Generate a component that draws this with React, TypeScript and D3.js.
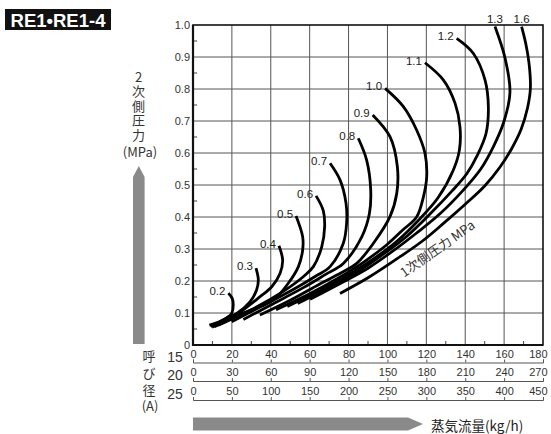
import { useEffect, useRef } from "react";
import * as d3 from "d3";

// secondary pressure ticks (MPa)
const pressureTicks = [0, 0.1, 0.2, 0.3, 0.4, 0.5, 0.6, 0.7, 0.8, 0.9, 1.0];
// steam flow ticks per nominal size (kg/h)
const flowTicks15 = [0, 20, 40, 60, 80, 100, 120, 140, 160, 180];
const flowTicks20 = [0, 30, 60, 90, 120, 150, 180, 210, 240, 270];
const flowTicks25 = [0, 50, 100, 150, 200, 250, 300, 350, 400, 450];
const nominalSizes = ["15", "20", "25"];

// primary pressure labels
const curveLabels = ["0.2", "0.3", "0.4", "0.5", "0.6", "0.7", "0.8", "0.9", "1.0", "1.1", "1.2", "1.3", "1.6"];

// [flow (15A scale), secondary pressure]
const curve02: [number, number][] = [[8.4, 0.062], [13.9, 0.073], [18, 0.088], [19.9, 0.099], [20.7, 0.125], [20.2, 0.145], [18.2, 0.162]];
const curve03: [number, number][] = [[9.0, 0.058], [16, 0.08], [22.5, 0.099], [29.3, 0.135], [32.7, 0.172], [33.6, 0.203], [32.4, 0.24]];
const curve04: [number, number][] = [[9.8, 0.056], [20, 0.085], [34.5, 0.151], [40.5, 0.182], [44.8, 0.224], [46.1, 0.266], [44.2, 0.31]];
const curve05: [number, number][] = [[11, 0.057], [25, 0.098], [41.3, 0.141], [49, 0.193], [54.2, 0.245], [56.4, 0.297], [56.4, 0.338], [53, 0.403]];
const curve06: [number, number][] = [[13, 0.062], [30, 0.11], [47, 0.17], [57, 0.215], [61.9, 0.245], [66.2, 0.307], [67.7, 0.37], [67, 0.42], [63.3, 0.466]];
const curve07: [number, number][] = [[19.9, 0.073], [35, 0.12], [52, 0.175], [63, 0.215], [70.5, 0.245], [77.3, 0.318], [79, 0.38], [78.7, 0.443], [75.6, 0.516], [70.5, 0.568]];
const curve08: [number, number][] = [[25.9, 0.08], [40, 0.125], [57, 0.18], [68, 0.22], [77.3, 0.255], [86.8, 0.338], [90.7, 0.41], [91.4, 0.484], [89.3, 0.578], [85, 0.646]];
const curve09: [number, number][] = [[34.4, 0.094], [50, 0.14], [65, 0.19], [76, 0.225], [84.2, 0.255], [92.8, 0.318], [101.3, 0.401], [104.8, 0.474], [105.1, 0.557], [101.3, 0.651], [92.4, 0.719]];
const curve10: [number, number][] = [[42.7, 0.11], [60, 0.16], [75, 0.21], [88, 0.26], [100, 0.315], [108, 0.36], [115, 0.4], [118.5, 0.463], [120.2, 0.526], [119.3, 0.599], [115, 0.672], [108.2, 0.745], [98.8, 0.802]];
const curve11: [number, number][] = [[48.5, 0.12], [65, 0.17], [80, 0.22], [93, 0.27], [105, 0.325], [116, 0.39], [126, 0.46], [133.9, 0.547], [137, 0.609], [137.3, 0.682], [134.8, 0.755], [128.8, 0.828], [119.3, 0.882]];
const curve12: [number, number][] = [[53.8, 0.13], [70, 0.18], [85, 0.23], [97, 0.28], [110, 0.34], [122, 0.41], [133, 0.48], [140.8, 0.535], [146, 0.59], [150.7, 0.661], [151.9, 0.745], [150.2, 0.828], [144.2, 0.911], [135.6, 0.958]];
const curve13: [number, number][] = [[60.2, 0.143], [75, 0.19], [90, 0.24], [102, 0.29], [115, 0.35], [127, 0.41], [139, 0.484], [148, 0.55], [154.5, 0.62], [160, 0.7], [163, 0.79], [160.5, 0.896], [155.3, 0.995]];
const curve16: [number, number][] = [[75.6, 0.161], [90, 0.21], [106.5, 0.276], [118, 0.325], [128.8, 0.38], [140, 0.44], [150, 0.497], [158, 0.557], [164, 0.615], [168.8, 0.675], [172, 0.74], [173.5, 0.8], [173, 0.87], [171.2, 0.94], [169, 0.995]];

const curves = [curve02, curve03, curve04, curve05, curve06, curve07, curve08, curve09, curve10, curve11, curve12, curve13, curve16];

const W = 551;
const H = 434;
const SANS = "'Liberation Sans', Arial, Helvetica, sans-serif";
const CJK = "'Noto Sans CJK JP', 'Liberation Sans', sans-serif";

export default function App() {
  const svgRef = useRef<SVGSVGElement>(null);

  useEffect(() => {
    if (!svgRef.current) return;
    const svg = d3.select(svgRef.current);
    svg.selectAll("*").remove();

    const x = d3.scaleLinear().domain([0, 180]).range([193, 543]);
    const y = d3.scaleLinear().domain([0, 1]).range([345, 25]);

    svg.append("rect").attr("width", W).attr("height", H).attr("fill", "#fff");

    // title badge
    svg.append("rect").attr("x", 5).attr("y", 9).attr("width", 106).attr("height", 21).attr("fill", "#111");
    svg
      .append("text")
      .attr("x", 58)
      .attr("y", 20)
      .attr("text-anchor", "middle")
      .attr("dominant-baseline", "central")
      .attr("font-family", SANS)
      .attr("font-weight", "bold")
      .attr("font-size", "18.5px")
      .attr("fill", "#fff")
      .text("RE1•RE1-4");

    // grid
    const g = svg.append("g");
    g.selectAll(".vgrid")
      .data(flowTicks15.slice(1, -1))
      .enter()
      .append("line")
      .attr("x1", (d) => x(d))
      .attr("x2", (d) => x(d))
      .attr("y1", y(0))
      .attr("y2", y(1))
      .attr("stroke", "#555")
      .attr("stroke-width", 1);
    g.selectAll(".hgrid")
      .data(pressureTicks.slice(1, -1))
      .enter()
      .append("line")
      .attr("x1", x(0))
      .attr("x2", x(180))
      .attr("y1", (d) => y(d))
      .attr("y2", (d) => y(d))
      .attr("stroke", "#555")
      .attr("stroke-width", 1);

    // minor ticks inside frame
    g.selectAll(".mx")
      .data(d3.range(10, 180, 20))
      .enter()
      .append("line")
      .attr("x1", (d) => x(d))
      .attr("x2", (d) => x(d))
      .attr("y1", y(0))
      .attr("y2", y(0) - 4)
      .attr("stroke", "#444");
    g.selectAll(".my")
      .data(d3.range(0.05, 1, 0.1))
      .enter()
      .append("line")
      .attr("x1", x(0))
      .attr("x2", x(0) + 4)
      .attr("y1", (d) => y(d))
      .attr("y2", (d) => y(d))
      .attr("stroke", "#444");

    // frame
    g.append("rect")
      .attr("x", x(0))
      .attr("y", y(1))
      .attr("width", x(180) - x(0))
      .attr("height", y(0) - y(1))
      .attr("fill", "none")
      .attr("stroke", "#111")
      .attr("stroke-width", 1.6);
    g.append("path")
      .attr("d", `M${x(0)},${y(1)}V${y(0)}H${x(180)}`)
      .attr("fill", "none")
      .attr("stroke", "#111")
      .attr("stroke-width", 2.2);

    // left axis labels
    svg
      .append("g")
      .attr("transform", `translate(${x(0)},0)`)
      .call(
        d3
          .axisLeft(y)
          .tickValues(pressureTicks)
          .tickSize(0)
          .tickPadding(3)
          .tickFormat((d) => ((d as number) === 0 ? "0" : d3.format(".1f")(d as number)))
      )
      .call((a) => a.select(".domain").remove())
      .call((a) =>
        a.selectAll(".tick text").attr("font-family", SANS).attr("font-size", "11px").attr("fill", "#333")
      );

    // flow rulers for each nominal size
    const rulers = [flowTicks15, flowTicks20, flowTicks25];
    const rulerY = [362.5, 381, 400];
    rulers.forEach((ticks, i) => {
      const s = d3.scaleLinear().domain([0, ticks[ticks.length - 1]]).range([x(0), x(180)]);
      svg
        .append("g")
        .attr("transform", `translate(0,${rulerY[i]})`)
        .call(d3.axisTop(s).tickValues(ticks).tickSizeInner(3).tickSizeOuter(3).tickPadding(2))
        .call((a) => a.selectAll("path, line").attr("stroke", "#555"))
        .call((a) =>
          a.selectAll(".tick text").attr("font-family", SANS).attr("font-size", "11px").attr("fill", "#333")
        )
        .call((a) =>
          a
            .selectAll<SVGTextElement, number>(".tick text")
            .filter((d) => d === ticks[ticks.length - 1])
            .attr("text-anchor", "end")
            .attr("x", 4)
        );
      svg
        .append("text")
        .attr("x", 175)
        .attr("y", rulerY[i] - 6)
        .attr("text-anchor", "middle")
        .attr("dominant-baseline", "central")
        .attr("font-family", SANS)
        .attr("font-size", "14px")
        .attr("fill", "#333")
        .text(nominalSizes[i]);
    });

    // stacked vertical captions, one text element each
    const stacked = (chars: string[], cx: number, y0: number, step: number) => {
      const t = svg
        .append("text")
        .attr("text-anchor", "middle")
        .attr("font-family", CJK)
        .attr("font-size", "13px")
        .attr("fill", "#333");
      chars.forEach((c, i) => {
        t.append("tspan")
          .attr("x", cx)
          .attr("y", y0 + i * step + 4.5)
          .text(c);
      });
    };

    // 呼び径 (A)
    stacked(["呼", "び", "径"], 149, 356.5, 16.8);
    stacked(["(A)"], 150, 406, 0);

    // 2次側圧力 (MPa)
    stacked(["2", "次", "側", "圧", "力"], 138.5, 77, 14.6);
    stacked(["(MPa)"], 140, 152.5, 0);

    // gray arrows
    svg
      .append("path")
      .attr("d", "M133,344V177L138.8,166L144.6,177V344Z")
      .attr("fill", "#8a8a8a");
    svg
      .append("path")
      .attr("d", "M193,417.5H408L423,424L408,430.5H193Z")
      .attr("fill", "#8a8a8a");
    svg
      .append("text")
      .attr("x", 431)
      .attr("y", 425)
      .attr("dominant-baseline", "central")
      .attr("font-family", CJK)
      .attr("font-size", "13.5px")
      .attr("fill", "#222")
      .text("蒸気流量(kg/h)");

    // curves
    const line = d3
      .line<[number, number]>()
      .x((d) => x(d[0]))
      .y((d) => y(d[1]))
      .curve(d3.curveCatmullRom.alpha(0.5));

    svg
      .append("g")
      .selectAll("path")
      .data(curves)
      .enter()
      .append("path")
      .attr("d", (d) => line(d))
      .attr("fill", "none")
      .attr("stroke", "#000")
      .attr("stroke-width", 2.8);

    // curve labels
    svg
      .append("g")
      .selectAll("text")
      .data(curves)
      .enter()
      .append("text")
      .each(function (d, i) {
        const top = d[d.length - 1];
        const t = d3.select(this);
        if (top[1] > 0.98) {
          t.attr("x", x(top[0])).attr("y", y(1) - 6).attr("text-anchor", "middle");
        } else {
          t.attr("x", x(top[0]) - 3).attr("y", y(top[1]) - 2).attr("text-anchor", "end");
        }
        t.attr("dominant-baseline", "central")
          .attr("font-family", SANS)
          .attr("font-size", "11.5px")
          .attr("fill", "#222")
          .text(curveLabels[i]);
      });

    // primary pressure caption
    svg
      .append("text")
      .attr("transform", `translate(437,248) rotate(-35)`)
      .attr("text-anchor", "middle")
      .attr("dominant-baseline", "central")
      .attr("font-family", CJK)
      .attr("font-size", "13px")
      .attr("fill", "#333")
      .text("1次側圧力 MPa");
  }, []);

  return (
    <div style={{ position: "absolute", left: 0, top: 0 }}>
      <svg ref={svgRef} width={W} height={H} style={{ display: "block" }} />
    </div>
  );
}
